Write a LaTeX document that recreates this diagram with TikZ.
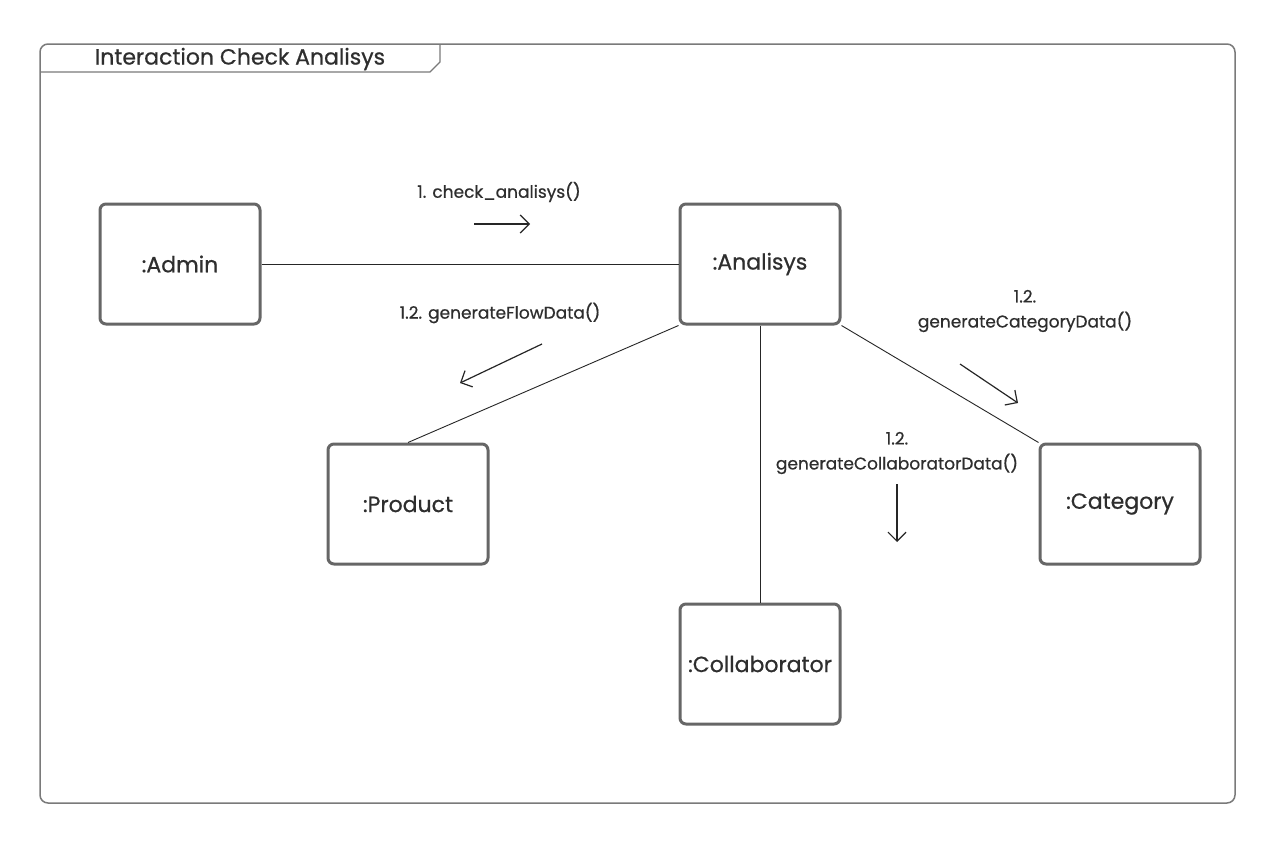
\documentclass[tikz,border=0pt]{standalone}
\usepackage{fontspec}
\setmainfont{Poppins}[FakeBold=0.6]
\usetikzlibrary{arrows.meta}
\definecolor{boxc}{HTML}{666666}
\definecolor{txtc}{HTML}{2E2E2E}
\definecolor{framec}{HTML}{7A7A7A}
\tikzset{
  obj/.style={draw=boxc, line width=3pt, rounded corners=6pt, minimum width=160pt, minimum height=120pt, inner sep=0pt, text=txtc, font=\fontsize{22}{26}\selectfont},
  link/.style={draw=black!85, line width=0.9pt},
  msg/.style={draw=black!85, line width=1.2pt, -{Straight Barb[length=9pt,width=18pt,line width=1.2pt]}},
  lbl/.style={text=txtc, font=\fontsize{17}{25}\selectfont, align=center, inner sep=0pt}
}
\begin{document}
\begin{tikzpicture}[x=1pt,y=-1pt]
\useasboundingbox (0,0) rectangle (1288,844);
\fill[white] (0,0) rectangle (1288,844);
% frame
\draw[framec, line width=1.5pt, rounded corners=8pt] (40,44) rectangle (1235,803);
\draw[framec, line width=1.2pt] (440,44) -- (440,62) -- (430,72) -- (40,72);
\node[text=txtc, font=\fontsize{22}{26}\selectfont, inner sep=0pt] (title) at (240,59) {Interaction Check Analisys};
% objects
\node[obj] (admin) at (180,264) {:Admin};
\node[obj] (anal) at (760,264) {:Analisys};
\node[obj] (prod) at (408,504) {:Product};
\node[obj] (cat) at (1120,504) {:Category};
\node[obj] (coll) at (760,664) {:Collaborator};
% links
\draw[link] (admin.east) -- (anal.west);
\draw[link] (anal.south west) -- (prod.north);
\draw[link] (anal.south) -- (coll.north);
\draw[link] (anal.south east) -- (cat.north west);
% messages
\coordinate (m1a) at (474,224); \coordinate (m1b) at (530,224);
\draw[msg] (m1a) -- (m1b);
\node[lbl] (l1) at (499,192) {1. check\_analisys()};
\coordinate (m2a) at (542,344); \coordinate (m2b) at (460,383);
\draw[msg] (m2a) -- (m2b);
\node[lbl] (l2) at (500,313) {1.2. generateFlowData()};
\coordinate (m3a) at (960,364); \coordinate (m3b) at (1018,403);
\draw[msg] (m3a) -- (m3b);
\node[lbl] (l3) at (1025,311) {1.2.\\generateCategoryData()};
\coordinate (m4a) at (897,484); \coordinate (m4b) at (897,542);
\draw[msg] (m4a) -- (m4b);
\node[lbl] (l4) at (897,453) {1.2.\\generateCollaboratorData()};
\end{tikzpicture}
\end{document}
